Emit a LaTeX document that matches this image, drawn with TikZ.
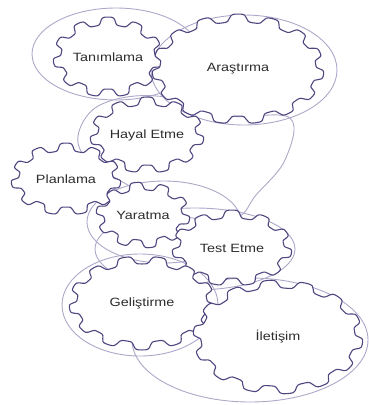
\documentclass[tikz,border=0pt]{standalone}
\usepackage{fontspec}
\setmainfont{Liberation Sans}[FakeStretch=1.2]
\definecolor{gearcol}{RGB}{82,70,128}
\definecolor{beltcol}{RGB}{172,168,200}
\definecolor{textcol}{RGB}{45,45,45}
\newcommand{\gear}[7]{%
  \filldraw[gearline] plot[domain=0:360, samples=241]
    ({#2+(#4-4+4*tanh(2.5*sin(#6*\x)))*cos(\x)},
     {#3+(#5-4+4*tanh(2.5*sin(#6*\x)))*sin(\x)}) -- cycle;
  \node[gearlabel] (#1) at (#2,#3) {#7};
}

\begin{document}
\begin{tikzpicture}[
  x=1pt, y=-1pt,
  gearline/.style={draw=gearcol, fill=white, line width=1.1pt, line join=round},
  beltline/.style={draw=beltcol, line width=0.9pt},
  gearlabel/.style={text=textcol, font=\fontsize{12}{14}\selectfont, inner sep=1pt}
]
\useasboundingbox (0,0) rectangle (369,405);
\draw[beltline] (116,54) ellipse [x radius=84, y radius=46];
\draw[beltline] (244,70) ellipse [x radius=93, y radius=55];
\draw[beltline] plot[smooth cycle, tension=0.6] coordinates {
  (290,118) (285,160) (256,195) (235,218) (180,215) (126,184)
  (88,160) (78,136) (95,108) (135,96) (185,100) (230,116)};
\draw[beltline] (164,222) ellipse [x radius=77, y radius=41];
\draw[beltline] (195,249) ellipse [x radius=100, y radius=41];
\draw[beltline] (140,305) ellipse [x radius=78, y radius=51];
\draw[beltline] (250,340) ellipse [x radius=118, y radius=62];
\gear{tanim}{108}{57}{55}{40}{11}{Tanımlama}
\gear{arast}{238}{69}{86}{55}{15}{Araştırma}
\gear{hayal}{147}{135}{57}{38}{11}{Hayal Etme}
\gear{plan}{66}{179}{55}{36}{11}{Planlama}
\gear{yarat}{143}{215}{47}{33}{10}{Yaratma}
\gear{test}{232}{248}{60}{38}{11}{Test Etme}
\gear{gelis}{142}{303}{73}{47}{13}{Geliştirme}
\gear{ileti}{278}{337}{85}{57}{14}{İletişim}
\end{tikzpicture}
\end{document}
